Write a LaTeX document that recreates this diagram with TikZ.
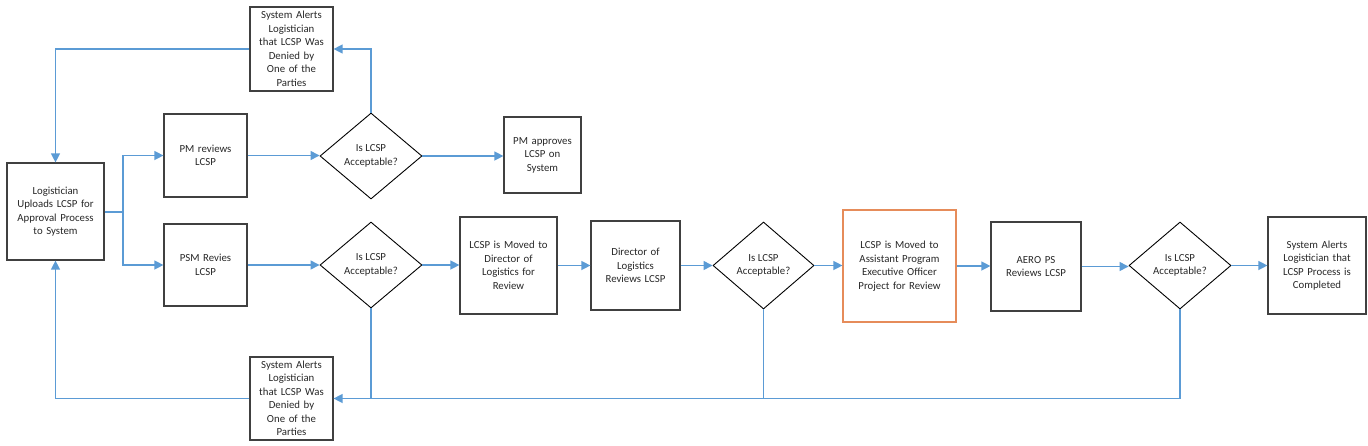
\documentclass[tikz,border=0pt]{standalone}
\usepackage{fontspec}
\setmainfont{Carlito}
\usetikzlibrary{shapes.geometric,arrows.meta}
\definecolor{lnblue}{RGB}{91,155,213}
\definecolor{bxgray}{RGB}{64,64,64}
\definecolor{bxorange}{RGB}{230,140,90}
\definecolor{txgray}{RGB}{40,40,40}
\begin{document}
\begin{tikzpicture}[x=1pt,y=-1pt,
  every node/.style={font=\fontsize{10.8pt}{13.5pt}\selectfont, text=txgray, align=center, inner sep=1pt},
  boxnode/.style={draw=bxgray, line width=1.2pt, fill=white, rectangle},
  decnode/.style={draw=black, line width=0.9pt, fill=white, diamond, aspect=1.2, inner sep=0pt},
  arr/.style={draw=lnblue, line width=1.3pt, -{Triangle[length=9pt,width=9pt]}},
  ln/.style={draw=lnblue, line width=1.3pt}]
\useasboundingbox (0,0) rectangle (1368,445);
\fill[white] (0,0) rectangle (1368,445);

\node[boxnode, minimum width=97pt, minimum height=97pt, text width=94pt] (log) at (55.5,211.5) {Logistician\\Uploads LCSP for\\Approval Process\\to System};
\node[boxnode, minimum width=83pt, minimum height=83pt, text width=80pt] (pm) at (205.5,155.5) {PM reviews\\LCSP};
\node[boxnode, minimum width=83pt, minimum height=82pt, text width=80pt] (psm) at (205.5,265) {PSM Revies\\LCSP};
\node[decnode, minimum width=102pt, minimum height=86pt] (d1) at (371,156) {Is LCSP\\Acceptable?};
\node[decnode, minimum width=102pt, minimum height=86pt] (d2) at (371,265) {Is LCSP\\Acceptable?};
\node[boxnode, minimum width=83pt, minimum height=84pt, text width=80pt] (at) at (291.5,49) {System Alerts\\Logistician\\that LCSP Was\\Denied by\\One of the\\Parties};
\node[boxnode, minimum width=77pt, minimum height=76pt, text width=74pt] (pa) at (542.5,155) {PM approves\\LCSP on\\System};
\node[boxnode, minimum width=97pt, minimum height=97pt, text width=94pt] (dm) at (508.5,265.5) {LCSP is Moved to\\Director of\\Logistics for\\Review};
\node[boxnode, minimum width=89pt, minimum height=89pt, text width=86pt] (dr) at (635.5,265.5) {Director of\\Logistics\\Reviews LCSP};
\node[decnode, minimum width=101pt, minimum height=87pt] (d3) at (763.5,265.5) {Is LCSP\\Acceptable?};
\node[draw=bxorange, line width=1.2pt, fill=white, rectangle, minimum width=113pt, minimum height=112pt, text width=110pt] (ape) at (899.5,266) {LCSP is Moved to\\Assistant Program\\Executive Officer\\Project for Review};
\node[boxnode, minimum width=90pt, minimum height=89pt, text width=87pt] (aero) at (1036,266.5) {AERO PS\\Reviews LCSP};
\node[decnode, minimum width=102pt, minimum height=87pt] (d4) at (1180,265.5) {Is LCSP\\Acceptable?};
\node[boxnode, minimum width=98pt, minimum height=97pt, text width=95pt] (fin) at (1317,265.5) {System Alerts\\Logistician that\\LCSP Process is\\Completed};
\node[boxnode, minimum width=83pt, minimum height=83pt, text width=80pt] (ab) at (291.5,398.5) {System Alerts\\Logistician\\that LCSP Was\\Denied by\\One of the\\Parties};

\coordinate (split) at (123,212);
\draw[ln] (log.east |- split) -- (split);
\draw[arr] (split) |- (pm.west);
\draw[arr] (split) |- (psm.west);
\draw[arr] (pm.east) -- (pm.east -| d1.west);
\draw[arr] (d1.north) |- (at.east);
\draw[arr] (at.west) -| (log.north);
\draw[arr] (d1.east) -- (d1.east -| pa.west);
\draw[arr] (psm.east) -- (psm.east -| d2.west);
\draw[arr] (d2.east) -- (d2.east -| dm.west);
\draw[arr] (dm.east) -- (dm.east -| dr.west);
\draw[arr] (dr.east) -- (dr.east -| d3.west);
\draw[arr] (d3.east) -- (d3.east -| ape.west);
\draw[arr] (ape.east) -- (ape.east -| aero.west);
\draw[arr] (aero.east) -- (aero.east -| d4.west);
\draw[arr] (d4.east) -- (d4.east -| fin.west);
\draw[ln] (d4.south) |- (ab.east);
\draw[ln] (d3.south) |- (ab.east);
\draw[arr] (d2.south) |- (ab.east);
\draw[arr] (ab.west) -| (log.south);
\end{tikzpicture}
\end{document}
